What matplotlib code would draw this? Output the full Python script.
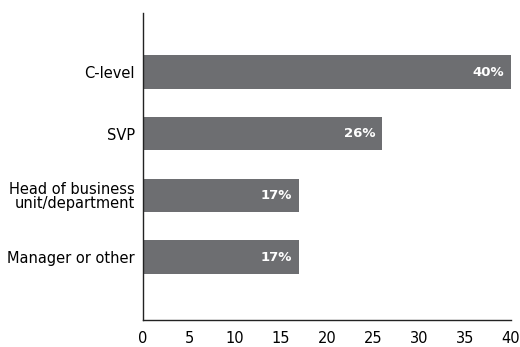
import matplotlib
matplotlib.use("Agg")
import matplotlib.pyplot as plt

categories = ["Manager or other", "Head of business\nunit/department", "SVP", "C-level"]
values = [17, 17, 26, 40]
xticks = [0, 5, 10, 15, 20, 25, 30, 35, 40]

bar_color = "#6d6e71"

fig = plt.figure(figsize=(5.2, 3.47), dpi=100)
ax = fig.add_axes([0.275, 0.078, 0.707, 0.885])

pos = list(range(len(categories)))
ax.barh(pos, values, height=0.54, color=bar_color)

for y, v in zip(pos, values):
    ax.annotate(f"{v}%", xy=(v, y), xytext=(-5, 0), textcoords="offset points",
                ha="right", va="center", color="white", fontsize=9.5,
                fontweight="bold")

ax.set_xlim(0, 40)
ax.set_ylim(-1.02, 3.96)
ax.set_xticks(xticks)
ax.set_yticks(pos)
ax.set_yticklabels(categories, fontsize=10.5, linespacing=0.95)
ax.tick_params(axis="both", length=0, colors="black")
ax.tick_params(axis="x", pad=8, labelsize=10.5)
ax.tick_params(axis="y", pad=6)

for side in ["top", "right"]:
    ax.spines[side].set_visible(False)
for side in ["left", "bottom"]:
    ax.spines[side].set_linewidth(1.0)
    ax.spines[side].set_color("#222222")

fig.savefig("out.png", dpi=100)
